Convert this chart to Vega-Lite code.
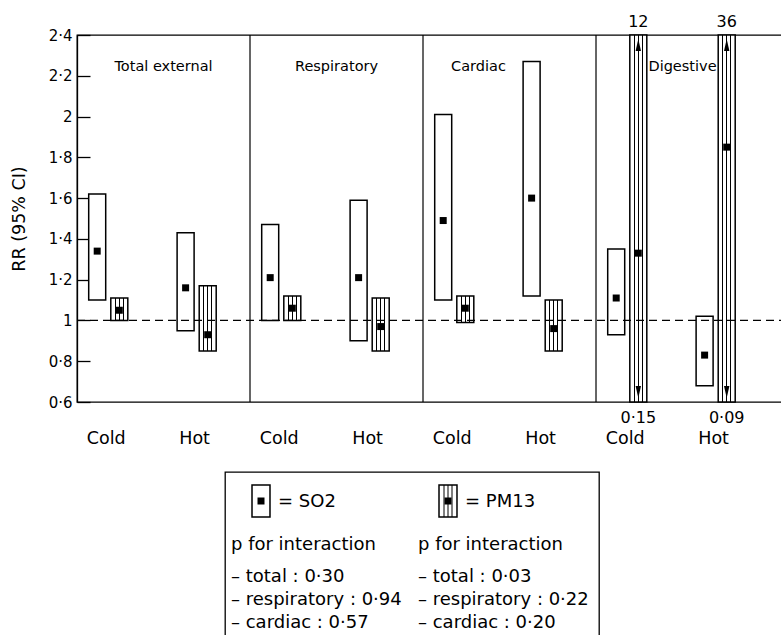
{
  "$schema": "https://vega.github.io/schema/vega-lite/v6.json",
  "padding": {"left": 9, "top": 13, "right": 0, "bottom": 0},
  "background": "white",
  "spacing": 22,
  "config": {
    "font": "DejaVu Sans",
    "locale": {"number": {"decimal": "·", "thousands": ",", "grouping": [3], "currency": ["", ""]}},
    "view": {"stroke": "black", "strokeWidth": 1.3},
    "text": {"font": "DejaVu Sans", "color": "black"}
  },
  "datasets": {
    "rr": [
      {"cause": "Total external", "season": "Cold", "pollutant": "SO2", "rr": 1.34, "lo": 1.10, "hi": 1.62},
      {"cause": "Total external", "season": "Cold", "pollutant": "PM13", "rr": 1.05, "lo": 1.00, "hi": 1.11},
      {"cause": "Total external", "season": "Hot", "pollutant": "SO2", "rr": 1.16, "lo": 0.95, "hi": 1.43},
      {"cause": "Total external", "season": "Hot", "pollutant": "PM13", "rr": 0.93, "lo": 0.85, "hi": 1.17},
      {"cause": "Respiratory", "season": "Cold", "pollutant": "SO2", "rr": 1.21, "lo": 1.00, "hi": 1.47},
      {"cause": "Respiratory", "season": "Cold", "pollutant": "PM13", "rr": 1.06, "lo": 1.00, "hi": 1.12},
      {"cause": "Respiratory", "season": "Hot", "pollutant": "SO2", "rr": 1.21, "lo": 0.90, "hi": 1.59},
      {"cause": "Respiratory", "season": "Hot", "pollutant": "PM13", "rr": 0.97, "lo": 0.85, "hi": 1.11},
      {"cause": "Cardiac", "season": "Cold", "pollutant": "SO2", "rr": 1.49, "lo": 1.10, "hi": 2.01},
      {"cause": "Cardiac", "season": "Cold", "pollutant": "PM13", "rr": 1.06, "lo": 0.99, "hi": 1.12},
      {"cause": "Cardiac", "season": "Hot", "pollutant": "SO2", "rr": 1.60, "lo": 1.12, "hi": 2.27},
      {"cause": "Cardiac", "season": "Hot", "pollutant": "PM13", "rr": 0.96, "lo": 0.85, "hi": 1.10},
      {"cause": "Digestive", "season": "Cold", "pollutant": "SO2", "rr": 1.11, "lo": 0.93, "hi": 1.35},
      {"cause": "Digestive", "season": "Cold", "pollutant": "PM13", "rr": 1.33, "lo": 0.15, "hi": 12},
      {"cause": "Digestive", "season": "Hot", "pollutant": "SO2", "rr": 0.83, "lo": 0.68, "hi": 1.02},
      {"cause": "Digestive", "season": "Hot", "pollutant": "PM13", "rr": 1.85, "lo": 0.09, "hi": 36}
    ],
    "causes": [
      {"cause": "Total external"},
      {"cause": "Respiratory"},
      {"cause": "Cardiac"},
      {"cause": "Digestive"}
    ],
    "legend": [
      {"col": "SO2", "row": "sym", "label": "= SO2"},
      {"col": "PM13", "row": "sym", "label": "= PM13"},
      {"col": "SO2", "row": "head", "label": "p for interaction"},
      {"col": "PM13", "row": "head", "label": "p for interaction"},
      {"col": "SO2", "row": "total", "label": "– total : 0·30"},
      {"col": "SO2", "row": "respiratory", "label": "– respiratory : 0·94"},
      {"col": "SO2", "row": "cardiac", "label": "– cardiac : 0·57"},
      {"col": "PM13", "row": "total", "label": "– total : 0·03"},
      {"col": "PM13", "row": "respiratory", "label": "– respiratory : 0·22"},
      {"col": "PM13", "row": "cardiac", "label": "– cardiac : 0·20"}
    ]
  },
  "vconcat": [
    {
      "width": 710,
      "height": 367,
      "data": {"name": "rr"},
      "transform": [{"calculate": "datum.season + ' ' + datum.pollutant", "as": "slot"}],
      "layer": [
        {
          "data": {"name": "causes"},
          "transform": [{"filter": "datum.cause !== 'Digestive'"}],
          "mark": {"type": "rule", "color": "black", "strokeWidth": 1.2},
          "encoding": {
            "x": {"field": "cause", "type": "nominal", "bandPosition": 1, "axis": null,
              "scale": {"type": "band", "domain": ["Total external", "Respiratory", "Cardiac", "Digestive"], "paddingInner": 0, "paddingOuter": 0.052, "align": 0}}
          }
        },
        {
          "transform": [{"filter": "datum.pollutant === 'SO2'"}],
          "mark": {"type": "bar", "width": 17, "fill": "white", "stroke": "black", "strokeWidth": 1.5},
          "encoding": {
            "x": {"field": "cause", "type": "nominal", "axis": null},
            "xOffset": {"field": "slot", "type": "nominal",
              "scale": {"domain": ["Cold SO2", "Cold PM13", "gap1", "gap2", "Hot SO2", "Hot PM13"], "paddingInner": 0, "paddingOuter": 0.914, "align": 0.2265}},
            "y": {"field": "lo", "type": "quantitative", "title": "RR (95% CI)",
              "scale": {"domain": [0.6, 2.4], "clamp": true, "nice": false, "zero": false},
              "axis": {
                "values": [0.6, 0.8, 1, 1.2, 1.4, 1.6, 1.8, 2, 2.2, 2.4],
                "format": "~g", "grid": false,
                "tickSize": -13, "tickColor": "black", "tickWidth": 1.3,
                "labelPadding": 18, "labelFont": "DejaVu Sans", "labelFontSize": 15, "labelColor": "black",
                "domainColor": "black", "domainWidth": 1.3,
                "titleFont": "DejaVu Sans", "titleFontSize": 17.5, "titleFontWeight": "normal", "titleColor": "black", "titlePadding": 20
              }},
            "y2": {"field": "hi"}
          }
        },
        {
          "transform": [{"filter": "datum.pollutant === 'PM13'"}],
          "mark": {"type": "bar", "width": 17, "stroke": "black", "strokeWidth": 1.5,
            "fill": {"gradient": "linear", "x1": 0, "y1": 0, "x2": 1, "y2": 0, "stops": [
              {"offset": 0, "color": "white"}, {"offset": 0.235, "color": "white"},
              {"offset": 0.235, "color": "black"}, {"offset": 0.295, "color": "black"},
              {"offset": 0.295, "color": "white"}, {"offset": 0.47, "color": "white"},
              {"offset": 0.47, "color": "black"}, {"offset": 0.53, "color": "black"},
              {"offset": 0.53, "color": "white"}, {"offset": 0.705, "color": "white"},
              {"offset": 0.705, "color": "black"}, {"offset": 0.765, "color": "black"},
              {"offset": 0.765, "color": "white"}, {"offset": 1, "color": "white"}
            ]}},
          "encoding": {
            "x": {"field": "cause", "type": "nominal"},
            "xOffset": {"field": "slot", "type": "nominal"},
            "y": {"field": "lo", "type": "quantitative"},
            "y2": {"field": "hi"}
          }
        },
        {
          "data": {"values": [{}]},
          "mark": {"type": "rule", "color": "black", "strokeWidth": 1.2, "strokeDash": [8, 5]},
          "encoding": {"y": {"datum": 1, "type": "quantitative"}}
        },
        {
          "mark": {"type": "point", "shape": "square", "filled": true, "size": 49, "color": "black", "opacity": 1},
          "encoding": {
            "x": {"field": "cause", "type": "nominal"},
            "xOffset": {"field": "slot", "type": "nominal"},
            "y": {"field": "rr", "type": "quantitative"}
          }
        },
        {
          "transform": [{"filter": "datum.hi > 2.4"}],
          "mark": {"type": "point", "shape": "M0,-1L0.45,1L-0.45,1Z", "filled": true, "size": 144, "color": "black", "opacity": 1, "yOffset": 10},
          "encoding": {
            "x": {"field": "cause", "type": "nominal"},
            "xOffset": {"field": "slot", "type": "nominal"},
            "y": {"field": "hi", "type": "quantitative"}
          }
        },
        {
          "transform": [{"filter": "datum.lo < 0.6"}],
          "mark": {"type": "point", "shape": "M0,1L0.45,-1L-0.45,-1Z", "filled": true, "size": 144, "color": "black", "opacity": 1, "yOffset": -10},
          "encoding": {
            "x": {"field": "cause", "type": "nominal"},
            "xOffset": {"field": "slot", "type": "nominal"},
            "y": {"field": "lo", "type": "quantitative"}
          }
        },
        {
          "transform": [{"filter": "datum.hi > 2.4"}],
          "mark": {"type": "text", "fontSize": 16, "baseline": "middle", "dy": -13},
          "encoding": {
            "x": {"field": "cause", "type": "nominal"},
            "xOffset": {"field": "slot", "type": "nominal"},
            "y": {"field": "hi", "type": "quantitative"},
            "text": {"field": "hi", "type": "quantitative", "format": "~g"}
          }
        },
        {
          "transform": [{"filter": "datum.lo < 0.6"}],
          "mark": {"type": "text", "fontSize": 16, "baseline": "middle", "dy": 16},
          "encoding": {
            "x": {"field": "cause", "type": "nominal"},
            "xOffset": {"field": "slot", "type": "nominal"},
            "y": {"field": "lo", "type": "quantitative"},
            "text": {"field": "lo", "type": "quantitative", "format": ".2f"}
          }
        },
        {
          "data": {"name": "causes"},
          "transform": [{"filter": "datum.cause !== 'Cardiac'"}],
          "mark": {"type": "text", "fontSize": 14.5, "baseline": "middle", "dy": 32},
          "encoding": {
            "x": {"field": "cause", "type": "nominal"},
            "y": {"datum": 2.4, "type": "quantitative"},
            "text": {"field": "cause"}
          }
        },
        {
          "data": {"name": "causes"},
          "transform": [{"filter": "datum.cause === 'Cardiac'"}],
          "mark": {"type": "text", "fontSize": 14.5, "baseline": "middle", "dy": 32, "dx": -31},
          "encoding": {
            "x": {"field": "cause", "type": "nominal"},
            "y": {"datum": 2.4, "type": "quantitative"},
            "text": {"field": "cause"}
          }
        },
        {
          "transform": [{"filter": "datum.pollutant === 'SO2'"}],
          "mark": {"type": "text", "fontSize": 17.5, "baseline": "middle", "dy": 37, "dx": 9},
          "encoding": {
            "x": {"field": "cause", "type": "nominal"},
            "xOffset": {"field": "slot", "type": "nominal"},
            "y": {"datum": 0.6, "type": "quantitative"},
            "text": {"field": "season"}
          }
        }
      ]
    },
    {
      "spacing": 0,
      "hconcat": [
        {
          "width": 147,
          "height": 10,
          "view": {"stroke": null},
          "data": {"values": [{}]},
          "mark": {"type": "text", "text": ""}
        },
        {
          "width": 374,
          "height": 170,
          "view": {"stroke": "black", "strokeWidth": 1.3},
          "data": {"name": "legend"},
          "encoding": {
            "x": {"field": "col", "type": "nominal", "bandPosition": 0, "axis": null,
              "scale": {"type": "band", "domain": ["SO2", "PM13"], "paddingInner": 0, "paddingOuter": 0}},
            "y": {"field": "row", "type": "nominal", "axis": null,
              "scale": {"type": "point", "domain": ["sym", "head", "total", "respiratory", "cardiac"], "range": [59, 151], "padding": 0}}
          },
          "layer": [
            {
              "transform": [{"filter": "datum.row === 'sym'"}],
              "mark": {"type": "point", "shape": "M-0.506,-0.9H0.506V0.9H-0.506Z", "size": 1264, "filled": true, "fill": "white", "stroke": "black", "strokeWidth": 1.5, "opacity": 1, "xOffset": 36, "yOffset": -30}
            },
            {
              "transform": [{"filter": "datum.row === 'sym' && datum.col === 'PM13'"}],
              "mark": {"type": "point", "shape": "M-0.225,-0.9V0.9M0,-0.9V0.9M0.225,-0.9V0.9", "size": 1264, "filled": false, "stroke": "black", "strokeWidth": 1, "opacity": 1, "xOffset": 36, "yOffset": -30}
            },
            {
              "transform": [{"filter": "datum.row === 'sym'"}],
              "mark": {"type": "point", "shape": "square", "size": 49, "filled": true, "color": "black", "opacity": 1, "xOffset": 36, "yOffset": -30}
            },
            {
              "transform": [{"filter": "datum.row === 'sym'"}],
              "mark": {"type": "text", "fontSize": 18, "align": "left", "baseline": "middle", "dx": 53, "dy": -29},
              "encoding": {"text": {"field": "label"}}
            },
            {
              "transform": [{"filter": "datum.row === 'head'"}],
              "mark": {"type": "text", "fontSize": 18, "align": "left", "baseline": "middle", "dx": 6, "dy": -9},
              "encoding": {"text": {"field": "label"}}
            },
            {
              "transform": [{"filter": "datum.row !== 'head' && datum.row !== 'sym'"}],
              "mark": {"type": "text", "fontSize": 18, "align": "left", "baseline": "middle", "dx": 6},
              "encoding": {"text": {"field": "label"}}
            }
          ]
        }
      ]
    }
  ]
}
